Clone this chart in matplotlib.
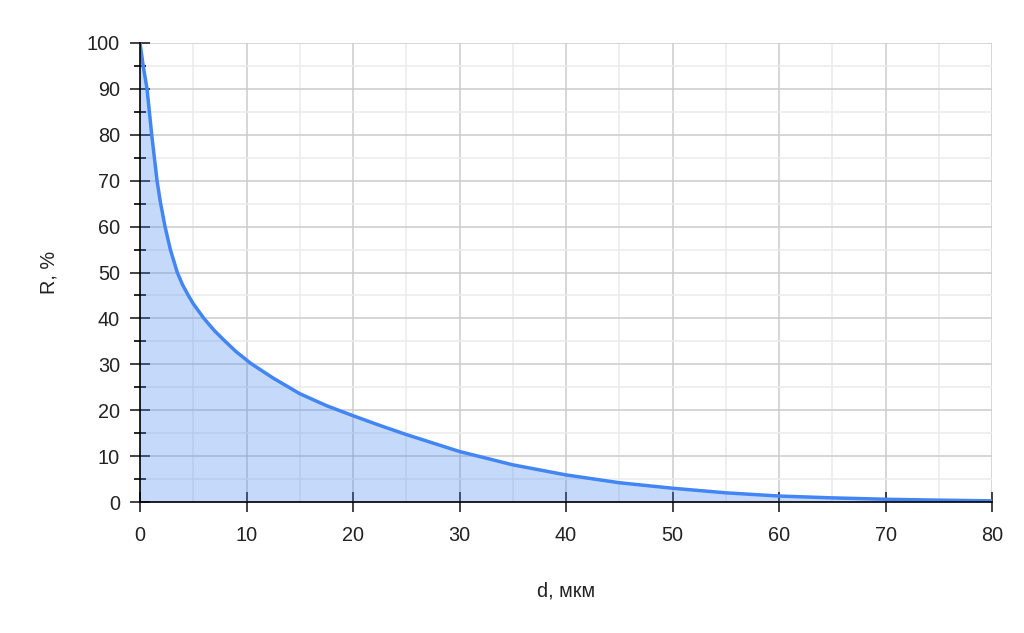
import matplotlib
matplotlib.use("Agg")
import matplotlib.pyplot as plt
from matplotlib.ticker import MultipleLocator

# толщина, мкм
d_um = [0, 0.3, 0.66, 1.1, 1.6, 1.9, 2.35, 2.85, 3.5, 4.0, 4.54, 5.0, 6.0, 7.0, 8.0,
        9.0, 10.4, 12.5, 15, 17.5, 20, 22.5, 25, 30, 35, 40, 45, 50, 55, 60, 65, 70, 75, 80]
# коэффициент отражения, %
r_pct = [100, 95, 90, 80, 70, 65.5, 60, 55, 50, 47.3, 45, 43.2, 40, 37.3, 35,
         32.8, 30.2, 27.0, 23.6, 21.0, 18.8, 16.7, 14.7, 11.0, 8.1, 5.9, 4.2, 3.0, 2.0, 1.3, 0.9, 0.6, 0.4, 0.25]

x_ticks = [0, 10, 20, 30, 40, 50, 60, 70, 80]
y_ticks = [0, 10, 20, 30, 40, 50, 60, 70, 80, 90, 100]

plt.rcParams['font.family'] = ['Liberation Sans', 'DejaVu Sans']

fig = plt.figure(figsize=(10.24, 6.33), dpi=100)
ax = fig.add_axes([140/1024, 131/633, 852/1024, 459/633])

ax.fill_between(d_um, r_pct, 0, color='#4285f4', alpha=0.3, linewidth=0, zorder=2)
ax.plot(d_um, r_pct, color='#4285f4', linewidth=2.5, zorder=3,
        solid_capstyle='butt', solid_joinstyle='round')

ax.set_xlim(0, 80)
ax.set_ylim(0, 100)
ax.set_xticks(x_ticks)
ax.set_yticks(y_ticks)
ax.xaxis.set_minor_locator(MultipleLocator(5))
ax.yaxis.set_minor_locator(MultipleLocator(5))

ax.grid(True, which='major', color='#cccccc', linewidth=1.1, zorder=0)
ax.grid(True, which='minor', color='#ebebeb', linewidth=1.1, zorder=0)
ax.set_axisbelow(True)

for s in ['top', 'right']:
    ax.spines[s].set_visible(False)
for s in ['left', 'bottom']:
    ax.spines[s].set_color('black')
    ax.spines[s].set_linewidth(1.2)
    ax.spines[s].set_zorder(4)

ax.tick_params(axis='both', which='major', direction='inout', length=15,
               width=1.2, labelsize=14.3, colors='#222222')
ax.tick_params(axis='y', which='major', pad=7)
ax.tick_params(axis='x', which='major', pad=10)
ax.tick_params(axis='y', which='minor', direction='inout', length=8, width=1.2)
ax.tick_params(axis='x', which='minor', length=0)

ax.set_xlabel('d, мкм', fontsize=14.3, color='#222222', labelpad=26)
ax.set_ylabel('R, %', fontsize=14.3, color='#222222', labelpad=20)

fig.savefig('out.png', dpi=100)
plt.close()
